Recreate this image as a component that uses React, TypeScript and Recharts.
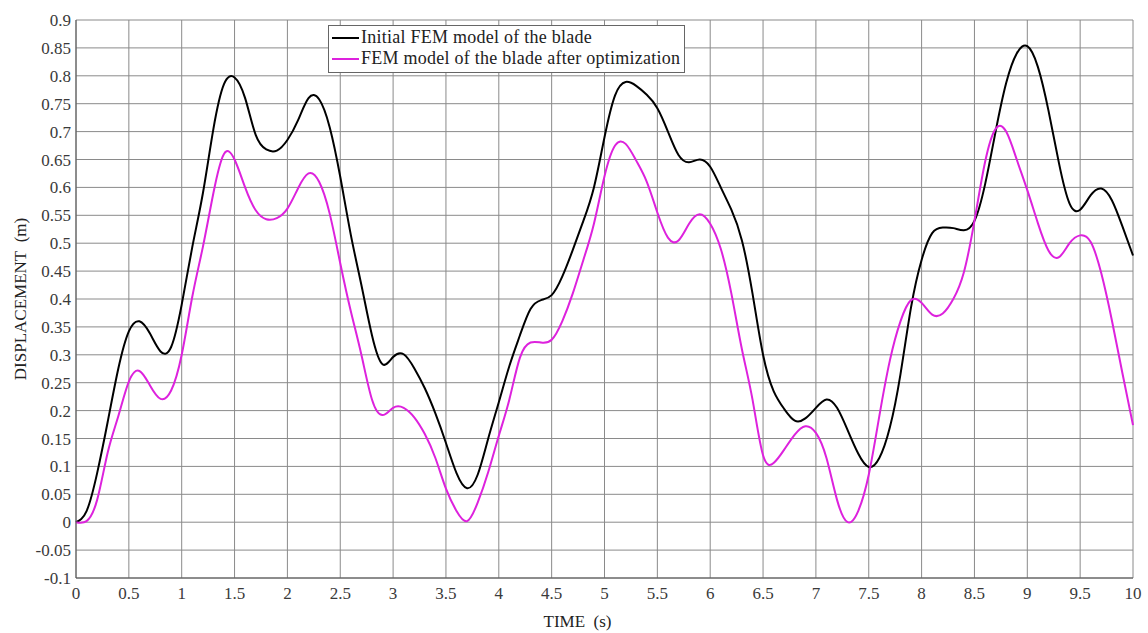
import React from 'react'
import { LineChart, Line, CartesianGrid, XAxis, YAxis, Legend } from 'recharts'

const time = [
  0, 0.1, 0.2, 0.3, 0.4, 0.5, 0.6, 0.7, 0.8, 0.9,
  1, 1.1, 1.2, 1.3, 1.4, 1.5, 1.6, 1.7, 1.8, 1.9,
  2, 2.1, 2.2, 2.3, 2.4, 2.5, 2.6, 2.7, 2.8, 2.9,
  3, 3.1, 3.2, 3.3, 3.4, 3.5, 3.6, 3.7, 3.8, 3.9,
  4, 4.1, 4.2, 4.3, 4.4, 4.5, 4.6, 4.7, 4.8, 4.9,
  5, 5.1, 5.2, 5.3, 5.4, 5.5, 5.6, 5.7, 5.8, 5.9,
  6, 6.1, 6.2, 6.3, 6.4, 6.5, 6.6, 6.7, 6.8, 6.9,
  7, 7.1, 7.2, 7.3, 7.4, 7.5, 7.6, 7.7, 7.8, 7.9,
  8, 8.1, 8.2, 8.3, 8.4, 8.5, 8.6, 8.7, 8.8, 8.9,
  9, 9.1, 9.2, 9.3, 9.4, 9.5, 9.6, 9.7, 9.8, 9.9,
  10,
]

// initial FEM model
const initial = [
  0, 0.02, 0.088, 0.18, 0.275, 0.342, 0.36, 0.338, 0.306, 0.314,
  0.39, 0.493, 0.589, 0.705, 0.785, 0.797, 0.76, 0.694, 0.668, 0.666,
  0.685, 0.72, 0.76, 0.758, 0.708, 0.619, 0.515, 0.425, 0.335, 0.283,
  0.296, 0.301, 0.276, 0.24, 0.195, 0.142, 0.088, 0.061, 0.085, 0.15,
  0.215, 0.28, 0.335, 0.382, 0.398, 0.407, 0.44, 0.488, 0.54, 0.6,
  0.69, 0.765, 0.789, 0.782, 0.766, 0.742, 0.7, 0.658, 0.645, 0.65,
  0.637, 0.6, 0.56, 0.505, 0.41, 0.3, 0.235, 0.203, 0.182, 0.186,
  0.205, 0.22, 0.205, 0.165, 0.123, 0.099, 0.115, 0.17, 0.265, 0.385,
  0.47, 0.518, 0.528, 0.527, 0.523, 0.54, 0.605, 0.7, 0.787, 0.84,
  0.853, 0.816, 0.738, 0.643, 0.571, 0.56, 0.586, 0.598, 0.577, 0.53,
  0.478,
]

// after optimization
const optimized = [
  0, 0.002, 0.04, 0.125, 0.19, 0.252, 0.271, 0.245, 0.221, 0.236,
  0.3, 0.404, 0.493, 0.59, 0.66, 0.65, 0.6, 0.559, 0.543, 0.545,
  0.562, 0.598, 0.625, 0.61, 0.553, 0.464, 0.378, 0.3, 0.22, 0.192,
  0.205, 0.205, 0.188, 0.158, 0.115, 0.06, 0.02, 0.002, 0.035, 0.09,
  0.155, 0.22, 0.295, 0.322, 0.322, 0.327, 0.36, 0.41, 0.47, 0.535,
  0.62, 0.675, 0.678, 0.648, 0.61, 0.555, 0.51, 0.505, 0.535, 0.552,
  0.535, 0.49, 0.41, 0.31, 0.22, 0.12, 0.106, 0.13, 0.157, 0.172,
  0.16, 0.115, 0.04, 0, 0.02, 0.085, 0.19, 0.29, 0.36, 0.398,
  0.393, 0.372, 0.374, 0.4, 0.448, 0.54, 0.645, 0.705, 0.7, 0.65,
  0.595, 0.536, 0.487, 0.475, 0.5, 0.514, 0.502, 0.446, 0.362, 0.267,
  0.174,
]

const xTicks = [0, 0.5, 1, 1.5, 2, 2.5, 3, 3.5, 4, 4.5, 5, 5.5, 6, 6.5, 7, 7.5, 8, 8.5, 9, 9.5, 10]
const yTicks = [
  -0.1, -0.05, 0, 0.05, 0.1, 0.15, 0.2, 0.25, 0.3, 0.35, 0.4,
  0.45, 0.5, 0.55, 0.6, 0.65, 0.7, 0.75, 0.8, 0.85, 0.9,
]

const data = time.map((t, i) => ({ t, initial: initial[i], optimized: optimized[i] }))

const font = '"Liberation Serif", serif'
const tickStyle = { fontFamily: font, fontSize: 17, fill: '#3a3a3a' }

const legendItems = [
  { label: 'Initial FEM model of the blade', color: '#000000' },
  { label: 'FEM model of the blade after optimization', color: '#dd22dd' },
]

function LegendBox() {
  return (
    <div
      style={{
        border: '1px solid #666',
        background: '#fff',
        padding: '1px 4px 3px 3px',
        fontFamily: font,
        fontSize: 18,
        letterSpacing: 0.25,
        color: '#222',
        lineHeight: '21px',
      }}
    >
      {legendItems.map((it) => (
        <div key={it.label} style={{ display: 'flex', alignItems: 'center', whiteSpace: 'nowrap' }}>
          <svg width={27} height={10} style={{ marginRight: 2 }}>
            <line x1={0} y1={5} x2={27} y2={5} stroke={it.color} strokeWidth={2} />
          </svg>
          <span>{it.label}</span>
        </div>
      ))}
    </div>
  )
}

export default function App() {
  return (
    <div style={{ position: 'absolute', left: 0, top: 0, background: '#fff' }}>
      <LineChart
        width={1148}
        height={633}
        data={data}
        margin={{ top: 20, right: 15, left: 0, bottom: 0 }}
      >
        <CartesianGrid stroke="#8a8a8a" strokeWidth={1} horizontalValues={yTicks} verticalValues={xTicks} />
        <XAxis
          dataKey="t"
          type="number"
          domain={[0, 10]}
          ticks={xTicks}
          interval={0}
          height={55}
          tickLine={false}
          tickSize={3}
          tickMargin={6}
          axisLine={{ stroke: '#555' }}
          tick={tickStyle}
          label={{
            value: 'TIME\u00a0\u00a0(s)',
            position: 'insideBottom',
            offset: 6,
            dx: -27,
            style: { fontFamily: font, fontSize: 17, fill: '#222' },
          }}
        />
        <YAxis
          type="number"
          domain={[-0.1, 0.9]}
          ticks={yTicks}
          interval={0}
          width={76}
          tickLine={false}
          tickSize={3}
          tickMargin={2}
          axisLine={{ stroke: '#555' }}
          tick={tickStyle}
          label={{
            value: 'DISPLACEMENT\u00a0\u00a0(m)',
            angle: -90,
            position: 'insideLeft',
            offset: 20,
            style: { fontFamily: font, fontSize: 17, fill: '#222', textAnchor: 'middle' },
          }}
        />
        <Legend
          layout="horizontal"
          verticalAlign="middle"
          align="center"
          content={() => <LegendBox />}
          wrapperStyle={{ left: 328, top: 25, width: 'auto' }}
        />
        <Line
          type="natural"
          dataKey="initial"
          stroke="#000000"
          strokeWidth={2}
          dot={false}
          isAnimationActive={false}
        />
        <Line
          type="natural"
          dataKey="optimized"
          stroke="#dd22dd"
          strokeWidth={2}
          dot={false}
          isAnimationActive={false}
        />
      </LineChart>
    </div>
  )
}
